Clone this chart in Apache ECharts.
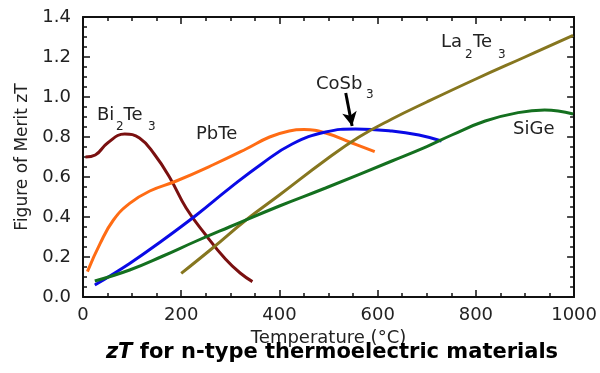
<!DOCTYPE html>
<html>
<head>
<meta charset="utf-8">
<script src="https://cdn.jsdelivr.net/npm/echarts@6/dist/echarts.min.js"></script>
<style>html,body{margin:0;padding:0;background:#fff}#c{width:600px;height:373px}</style>
</head>
<body>
<div id="c"></div>
<script>
// Data
var xTicks = [0, 200, 400, 600, 800, 1000];
var yTicks = [0.0, 0.2, 0.4, 0.6, 0.8, 1.0, 1.2, 1.4];

var biTeT  = [5, 25, 50, 85, 115, 145, 176, 210, 250, 290, 320, 345];
var biTeZ  = [0.70, 0.71, 0.77, 0.815, 0.795, 0.715, 0.60, 0.445, 0.31, 0.19, 0.12, 0.077];

var pbTeT  = [9, 35, 62, 95, 136, 190, 264, 332, 380, 420, 450, 494, 548, 594];
var pbTeZ  = [0.127, 0.268, 0.385, 0.468, 0.53, 0.58, 0.66, 0.74, 0.80, 0.83, 0.837, 0.82, 0.77, 0.727];

var coSbT  = [24, 95, 163, 231, 298, 365, 426, 494, 555, 629, 684, 730];
var coSbZ  = [0.06, 0.168, 0.285, 0.41, 0.543, 0.668, 0.765, 0.825, 0.84, 0.83, 0.81, 0.78];

var laTeT  = [200, 264, 332, 400, 494, 562, 629, 700, 800, 900, 998];
var laTeZ  = [0.118, 0.245, 0.385, 0.51, 0.685, 0.80, 0.89, 0.975, 1.09, 1.2, 1.308];

var siGeT  = [24, 95, 163, 231, 298, 400, 494, 629, 700, 751, 819, 886, 940, 998];
var siGeZ  = [0.08, 0.135, 0.205, 0.28, 0.35, 0.455, 0.545, 0.68, 0.752, 0.81, 0.88, 0.922, 0.935, 0.915];

var arrowFrom = [535, 1.02];
var arrowTo   = [548, 0.855];

function pairs(xs, ys){ return xs.map(function(x,i){ return [x, ys[i]]; }); }

var FONT = '"DejaVu Sans", "Liberation Sans", Arial, sans-serif';
var chart = echarts.init(document.getElementById('c'));

function lineSeries(name, xs, ys, color, extra){
  var s = {
    name: name, type: 'line', data: pairs(xs, ys), smooth: 0.45, showSymbol: false,
    lineStyle: { color: color, width: 3 }, itemStyle: { color: color }, z: 3
  };
  if (extra) for (var k in extra) s[k] = extra[k];
  return s;
}

function axisCommon(){
  return {
    axisLine: { show: true, onZero: false, lineStyle: { color: '#111', width: 2 } },
    axisTick: { show: true, inside: true, length: 7, lineStyle: { color: '#111', width: 1.5 } },
    minorTick: { show: true, splitNumber: 4, length: 4, lineStyle: { color: '#111', width: 1.5 } },
    splitLine: { show: false }
  };
}

var xb = axisCommon();
xb.type = 'value'; xb.min = xTicks[0]; xb.max = xTicks[xTicks.length-1]; xb.interval = 200; xb.position = 'bottom';
xb.axisLabel = { color: '#222', fontSize: 18, fontFamily: FONT, margin: 9,
  formatter: function(v){ return String(v); } };
xb.name = 'Temperature (\u00B0C)'; xb.nameLocation = 'middle'; xb.nameGap = 27;
xb.nameTextStyle = { color: '#222', fontSize: 18, fontFamily: FONT };

var xt = axisCommon();
xt.type = 'value'; xt.min = xb.min; xt.max = xb.max; xt.interval = 200; xt.position = 'top';
xt.axisLabel = { show: false };

var yl = axisCommon();
yl.type = 'value'; yl.min = yTicks[0]; yl.max = yTicks[yTicks.length-1]; yl.interval = 0.2; yl.position = 'left';
yl.axisLabel = { color: '#222', fontSize: 18, fontFamily: FONT, margin: 12,
  formatter: function(v){ return v.toFixed(1); } };
yl.name = 'Figure of Merit zT'; yl.nameLocation = 'middle'; yl.nameGap = 52;
yl.nameTextStyle = { color: '#222', fontSize: 17, fontFamily: FONT };

var yr = axisCommon();
yr.type = 'value'; yr.min = yl.min; yr.max = yl.max; yr.interval = 0.2; yr.position = 'right';
yr.axisLabel = { show: false };

function txt(t, x, y, size){
  return { type: 'text', z: 10, style: { text: t, x: x, y: y, fill: '#222', font: size + 'px ' + FONT,
             textAlign: 'left', textVerticalAlign: 'middle' } };
}

chart.setOption({
  animation: false,
  backgroundColor: '#fff',
  grid: { left: 83, right: 24, top: 17, bottom: 76 },
  xAxis: [xb, xt],
  yAxis: [yl, yr],
  series: [
    lineSeries('Bi2Te3', biTeT, biTeZ, '#7a1010'),
    lineSeries('PbTe', pbTeT, pbTeZ, '#ff6c14'),
    lineSeries('CoSb3', coSbT, coSbZ, '#0a0ae6', {
      markLine: {
        silent: true, symbol: ['none', 'arrow'], symbolSize: [11, 14],
        label: { show: false },
        lineStyle: { color: '#000', width: 3, type: 'solid' },
        data: [[{ coord: arrowFrom }, { coord: arrowTo }]]
      }
    }),
    lineSeries('La2Te3', laTeT, laTeZ, '#86761f'),
    lineSeries('SiGe', siGeT, siGeZ, '#14701f')
  ],
  graphic: [
    txt('Bi', 97, 115, 18), txt('2', 116, 127, 12), txt('Te', 123.5, 115, 18), txt('3', 148, 127, 12),
    txt('PbTe', 196, 134, 18),
    txt('CoSb', 316, 84, 18), txt('3', 366, 95, 12),
    txt('La', 441, 42, 18), txt('2', 465, 55, 12), txt('Te', 473, 42, 18), txt('3', 498, 55, 12),
    txt('SiGe', 513, 129, 18),
    { type: 'text', z: 10, style: {
        x: 332, y: 353, textAlign: 'center', textVerticalAlign: 'middle',
        text: '{i|zT}{b| for n-type thermoelectric materials}',
        rich: {
          i: { fontSize: 21, fontWeight: 'bold', fontStyle: 'italic', fontFamily: FONT, fill: '#000' },
          b: { fontSize: 21, fontWeight: 'bold', fontFamily: FONT, fill: '#000' }
        } } }
  ]
});
</script>
</body>
</html>
